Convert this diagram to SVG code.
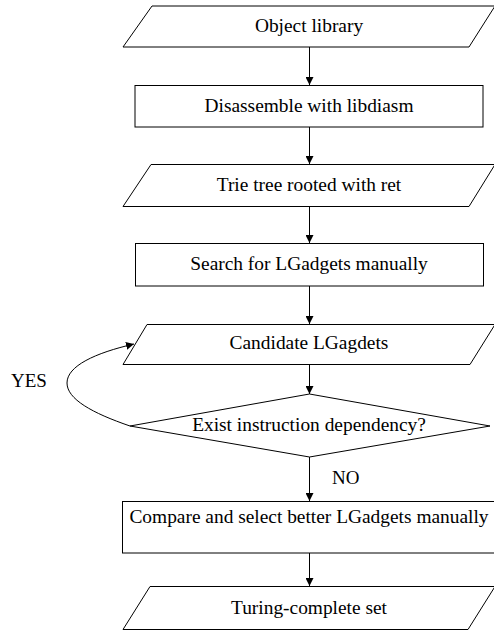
<svg xmlns="http://www.w3.org/2000/svg" width="494" height="631" viewBox="0 0 494 631">
  <defs>
    <marker id="arrow" viewBox="0 0 8 8" refX="8" refY="4" markerWidth="8" markerHeight="8" markerUnits="userSpaceOnUse" orient="auto">
      <path d="M0,0 L8,4 L0,8 Z" fill="#000"/>
    </marker>
    <style>
      .shape { fill: #fff; stroke: #000; stroke-width: 1; }
      .edge { fill: none; stroke: #000; stroke-width: 1; marker-end: url(#arrow); }
      .label { font-family: "Liberation Serif", "Times New Roman", serif; font-size: 19.4px; fill: #000; text-anchor: middle; }
      .tag { font-family: "Liberation Serif", "Times New Roman", serif; font-size: 19px; fill: #000; }
    </style>
  </defs>
  <rect width="494" height="631" fill="#fff"/>

  <g id="connectors">
    <line class="edge" x1="309.5" y1="47" x2="309.5" y2="85"/>
    <line class="edge" x1="309.5" y1="127" x2="309.5" y2="164"/>
    <line class="edge" x1="309.5" y1="206" x2="309.5" y2="243"/>
    <line class="edge" x1="309.5" y1="286" x2="309.5" y2="324"/>
    <line class="edge" x1="309.5" y1="364" x2="309.5" y2="394"/>
    <line class="edge" x1="309.5" y1="457" x2="309.5" y2="501"/>
    <line class="edge" x1="309.5" y1="553" x2="309.5" y2="586"/>
    <path class="edge" d="M130,426 C92,413 67,399 67,383 C67,366 95,353 134,344"/>
    <text class="tag" x="11" y="387">YES</text>
    <text class="tag" x="332" y="484">NO</text>
  </g>

  <g id="object-library">
    <polygon class="shape" points="152,6 495,6 469,47 123,47"/>
    <text class="label" x="309" y="32">Object library</text>
  </g>

  <g id="disassemble">
    <rect class="shape" x="135" y="85.5" width="348" height="41.5"/>
    <text class="label" x="309" y="112">Disassemble with libdiasm</text>
  </g>

  <g id="trie-tree">
    <polygon class="shape" points="151,164.5 495,164.5 469,206.5 123,206.5"/>
    <text class="label" x="309" y="191">Trie tree rooted with ret</text>
  </g>

  <g id="search-lgadgets">
    <rect class="shape" x="135.5" y="243.5" width="348" height="42.5"/>
    <text class="label" x="309" y="270">Search for LGadgets manually</text>
  </g>

  <g id="candidate-lgadgets">
    <polygon class="shape" points="147,324.5 495,324.5 470,364.5 123,364.5"/>
    <text class="label" x="309" y="349">Candidate LGagdets</text>
  </g>

  <g id="dependency-check">
    <polygon class="shape" points="309.5,394 490,426 309.5,457 130,426"/>
    <text class="label" x="309" y="431">Exist instruction dependency?</text>
  </g>

  <g id="compare-select">
    <rect class="shape" x="122.5" y="501.5" width="375" height="51.5"/>
    <text class="label" x="309" y="523">Compare and select better LGadgets manually</text>
  </g>

  <g id="turing-complete">
    <polygon class="shape" points="150,586.5 495,586.5 468,629.5 123,629.5"/>
    <text class="label" x="309" y="614">Turing-complete set</text>
  </g>
</svg>
